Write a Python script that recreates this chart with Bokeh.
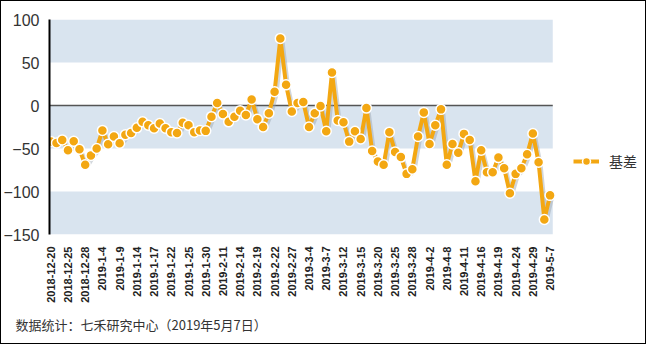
import math
from bokeh.plotting import figure
from bokeh.models import (ColumnDataSource, FixedTicker, BoxAnnotation,
                          Legend, LegendItem, Title, Range1d, InlineStyleSheet)
from bokeh.embed import file_html
from bokeh.resources import INLINE

# ---- data ----
tick_dates = ["2018-12-20", "2018-12-25", "2018-12-28", "2019-1-4", "2019-1-9",
              "2019-1-14", "2019-1-17", "2019-1-22", "2019-1-25", "2019-1-30",
              "2019-2-11", "2019-2-14", "2019-2-19", "2019-2-22", "2019-2-27",
              "2019-3-4", "2019-3-7", "2019-3-12", "2019-3-15", "2019-3-20",
              "2019-3-25", "2019-3-28", "2019-4-2", "2019-4-8", "2019-4-11",
              "2019-4-16", "2019-4-19", "2019-4-24", "2019-4-29", "2019-5-7"]

basis = [-42, -43.6, -40, -52, -41.7, -51, -69, -58, -50, -29,
         -45, -36, -44, -34, -32, -26, -19, -23, -26.5, -21,
         -26.5, -31, -32, -20, -23, -31, -29, -29.5, -13, 3,
         -10, -19, -13, -6, -11, 7, -16, -25, -9, 16,
         78, 24, -7, 3, 4, -25, -9, -0.5, -30, 38.5,
         -17.4, -19.5, -42, -30, -39, -3, -53, -65, -69, -31,
         -54, -60, -79.5, -74, -36, -8, -44.7, -23, -4.5, -69,
         -44.7, -55, -33, -40, -88, -52, -77.6, -77.6, -60.6, -73,
         -102, -79.5, -73, -56.8, -32.5, -66, -132.5, -104.5]

series_name = "基差"
footer_text = "数据统计：七禾研究中心（2019年5月7日）"
y_ticks = [100, 50, 0, -50, -100, -150]
bands = [(50, 100), (-50, 0), (-150, -100)]
tick_step = 3

ORANGE = "#F3A712"
BAND = "#D9E4EF"

n = len(basis)
x_lo = -0.22            # left edge of plotting band (in index units)
x_hi = n - 1 + 0.47     # right edge of plotting band
xs = list(range(n))
src = ColumnDataSource(dict(x=xs, y=basis))
shadow_src = ColumnDataSource(dict(x=[v + 0.35 for v in xs], y=[v - 2.5 for v in basis]))

border_css = InlineStyleSheet(css="""
:host { outline: 1px solid #000; outline-offset: -1px; }
.bk-Canvas::after { content: ""; position: absolute; left: 0; top: 0; right: 0; bottom: 0;
  border: 1px solid #000; box-sizing: border-box; pointer-events: none; z-index: 100; }
""")

p = figure(width=646, height=344,
           x_range=Range1d(x_lo, x_lo + 103.5),
           y_range=Range1d(-150, 100),
           output_backend="svg", toolbar_location=None,
           min_border_left=48, min_border_right=3,
           min_border_top=19, min_border_bottom=110,
           stylesheets=[border_css])
p.outline_line_color = None
p.background_fill_color = "white"
p.border_fill_color = "white"
p.xgrid.visible = False
p.ygrid.visible = False

for lo, hi in bands:
    p.add_layout(BoxAnnotation(bottom=lo, top=hi, left=x_lo, right=x_hi,
                               fill_color=BAND, fill_alpha=1,
                               line_color=None, level="underlay"))
p.segment(x0=[x_lo], y0=[0], x1=[x_hi], y1=[0], line_color="#555555", line_width=1.5)

p.line("x", "y", source=shadow_src, line_color="#9aa4b0", line_alpha=0.45, line_width=4)
r_line = p.line("x", "y", source=src, line_color=ORANGE, line_width=4)
r_pts = p.scatter("x", "y", source=src, size=10, fill_color=ORANGE,
                  line_color="white", line_width=1.5)

ticks = list(range(0, n, tick_step))
p.xaxis.ticker = FixedTicker(ticks=ticks)
p.xaxis.major_label_overrides = {t: d for t, d in zip(ticks, tick_dates)}
p.xaxis.major_label_orientation = math.pi / 2
p.xaxis.axis_line_color = None
p.xaxis.major_tick_line_color = None
p.xaxis.minor_tick_line_color = None
p.xaxis.major_label_text_font = "Liberation Sans"
p.xaxis.major_label_text_font_style = "bold"
p.xaxis.major_label_text_font_size = "11px"
p.xaxis.major_label_text_color = "#222222"
p.xaxis.major_label_standoff = 6

p.yaxis.ticker = FixedTicker(ticks=y_ticks)
p.yaxis.axis_line_color = "black"
p.yaxis.axis_line_width = 2
p.yaxis.major_tick_line_color = None
p.yaxis.minor_tick_line_color = None
p.yaxis.major_label_text_font = "Liberation Sans"
p.yaxis.major_label_text_font_size = "16px"
p.yaxis.major_label_text_color = "#333333"
p.yaxis.major_label_standoff = 4

legend = Legend(items=[LegendItem(label=series_name, renderers=[r_line, r_pts])],
                location=(524, 63), padding=0, margin=0, spacing=0,
                glyph_width=26, glyph_height=20, label_standoff=10,
                label_text_font="Noto Sans CJK SC", label_text_font_size="14px",
                label_text_color="#333333", border_line_color=None,
                background_fill_alpha=0)
p.add_layout(legend)

p.add_layout(Title(text=footer_text, align="left", offset=-34, standoff=15,
                   text_font="Noto Sans CJK SC", text_font_size="13px",
                   text_font_style="normal", text_color="#333333"), "below")

open("out.html", "w").write(file_html(p, INLINE))
